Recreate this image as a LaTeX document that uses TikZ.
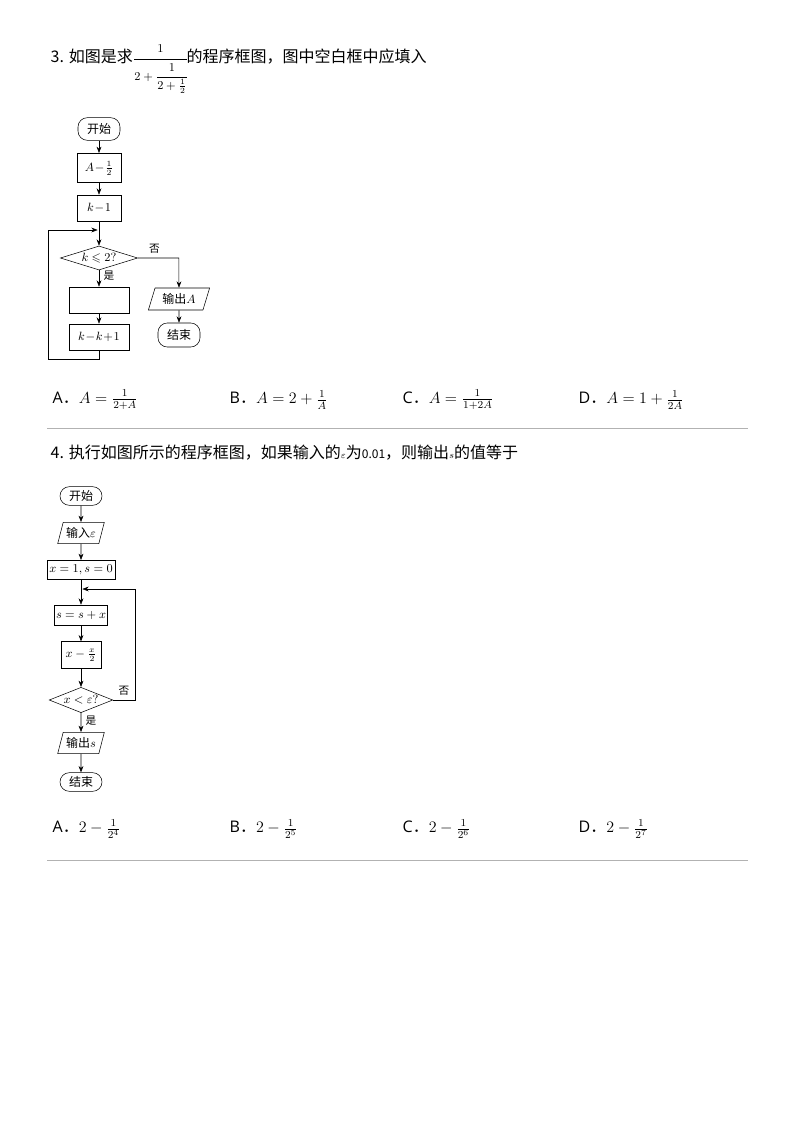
\documentclass[tikz,border=0pt]{standalone}
\usepackage{amsmath, amssymb}
\usepackage{fontspec}
\setsansfont{Open Sans}
\newfontfamily\cjk{Noto Sans CJK SC}
\newcommand{\optdot}{{\cjk ．}}
\usetikzlibrary{arrows.meta, positioning, shapes.geometric}

\begin{document}
\begin{tikzpicture}[x=0.75pt, y=-0.75pt, >=Stealth, font=\cjk,
    term/.style={draw, rounded corners=7pt, font=\cjk\small, inner sep=1pt},
    proc/.style={draw, font=\small, inner sep=1pt},
    io/.style={draw, trapezium, trapezium left angle=70, trapezium right angle=110,
      trapezium stretches=true, font=\cjk\small, inner sep=1pt},
    dec/.style={draw, diamond, aspect=3.2, font=\small, inner sep=0pt},
    flow/.style={->, thin},
    rule/.style={gray!60, thin}]

    \useasboundingbox (0,0) rectangle (794,1124);

    % --- Question 3
    \node[anchor=west, font=\cjk\large] (q3) at (46,68)
      {3. 如图是求{\small$\cfrac{1}{2+\cfrac{1}{2+\frac12}}$}的程序框图，图中空白框中应填入};

    \node[term, minimum width=31.5pt, minimum height=17pt] (s1) at (99,129) {开始};
    \node[proc, minimum width=33pt, minimum height=22pt] (a1) at (99,168) {$A\!-\!\frac12$};
    \node[proc, minimum width=33pt, minimum height=19.5pt] (k1) at (99,208) {$k\!-\!1$};
    \node[dec, minimum width=58pt, minimum height=18pt] (d1) at (99,258) {$k\leqslant 2?$};
    \node[proc, minimum width=45pt, minimum height=19.5pt] (b1) at (99,300) {};
    \node[proc, minimum width=45pt, minimum height=19.5pt] (i1) at (99,337) {$k\!-\!k\!+\!1$};
    \node[io, minimum width=46pt, minimum height=16.5pt] (o1) at (179,299) {输出$A$};
    \node[term, minimum width=31.5pt, minimum height=18pt] (e1) at (179,335) {结束};
    \coordinate (j1) at (99,230);

    \draw[flow] (s1) -- (a1);
    \draw[flow] (a1) -- (k1);
    \draw[flow] (k1) -- (d1);
    \draw[flow] (d1) -- node[right, font=\cjk\footnotesize, pos=0.35] {是} (b1);
    \draw[flow] (b1) -- (i1);
    \draw[flow] (d1.east) -- node[above, font=\cjk\footnotesize, pos=0.4] {否} ++(41,0) -- (o1);
    \draw[flow] (o1) -- (e1);
    \draw[flow] (i1.south) -- ++(0,9) -| (48,230) -- ([xshift=-1pt]j1);

    \node[anchor=west, font=\sffamily\large] (a3) at (48,400) {A\optdot{}$A=\frac{1}{2+A}$};
    \node[anchor=west, font=\sffamily\large] (b3) at (225,400) {B\optdot{}$A=2+\frac{1}{A}$};
    \node[anchor=west, font=\sffamily\large] (c3) at (398,400) {C\optdot{}$A=\frac{1}{1+2A}$};
    \node[anchor=west, font=\sffamily\large] (d3) at (574,400) {D\optdot{}$A=1+\frac{1}{2A}$};
    \draw[rule] (47,428) -- (748,428);

    % --- Question 4
    \node[anchor=west, font=\cjk\large] (q4) at (46,453)
      {4. 执行如图所示的程序框图，如果输入的{\scriptsize$\varepsilon$}为{\small 0.01}，则输出{\scriptsize$s$}的值等于};

    \node[term, minimum width=31.5pt, minimum height=14pt] (s2) at (81,496) {开始};
    \node[io, minimum width=35pt, minimum height=16pt] (n2) at (81,533) {输入$\varepsilon$};
    \node[proc, minimum width=51pt, minimum height=14.5pt] (v2) at (81,570) {$x=1,s=0$};
    \node[proc, minimum width=36pt, minimum height=15pt] (p2) at (81,615) {$s=s+x$};
    \node[proc, minimum width=30pt, minimum height=20pt] (h2) at (81,655) {$x-\frac{x}{2}$};
    \node[dec, minimum width=46pt, minimum height=19pt] (d2) at (81,700) {$x<\varepsilon?$};
    \node[io, minimum width=35pt, minimum height=16pt] (o2) at (81,743) {输出$s$};
    \node[term, minimum width=31.5pt, minimum height=14pt] (e2) at (81,782) {结束};
    \coordinate (j2) at (81,589);

    \draw[flow] (s2) -- (n2);
    \draw[flow] (n2) -- (v2);
    \draw[flow] (v2) -- (p2);
    \draw[flow] (p2) -- (h2);
    \draw[flow] (h2) -- (d2);
    \draw[flow] (d2) -- node[right, font=\cjk\footnotesize, pos=0.4] {是} (o2);
    \draw[flow] (o2) -- (e2);
    \draw[flow] (d2.east) -- node[above, font=\cjk\footnotesize] {否} (135,700) -- (135,589) -- ([xshift=1pt]j2);

    \node[anchor=west, font=\sffamily\large] (a4) at (48,829) {A\optdot{}$2-\frac{1}{2^4}$};
    \node[anchor=west, font=\sffamily\large] (b4) at (225,829) {B\optdot{}$2-\frac{1}{2^5}$};
    \node[anchor=west, font=\sffamily\large] (c4) at (398,829) {C\optdot{}$2-\frac{1}{2^6}$};
    \node[anchor=west, font=\sffamily\large] (d4) at (574,829) {D\optdot{}$2-\frac{1}{2^7}$};
    \draw[rule] (47,860) -- (748,860);

\end{tikzpicture}
\end{document}
